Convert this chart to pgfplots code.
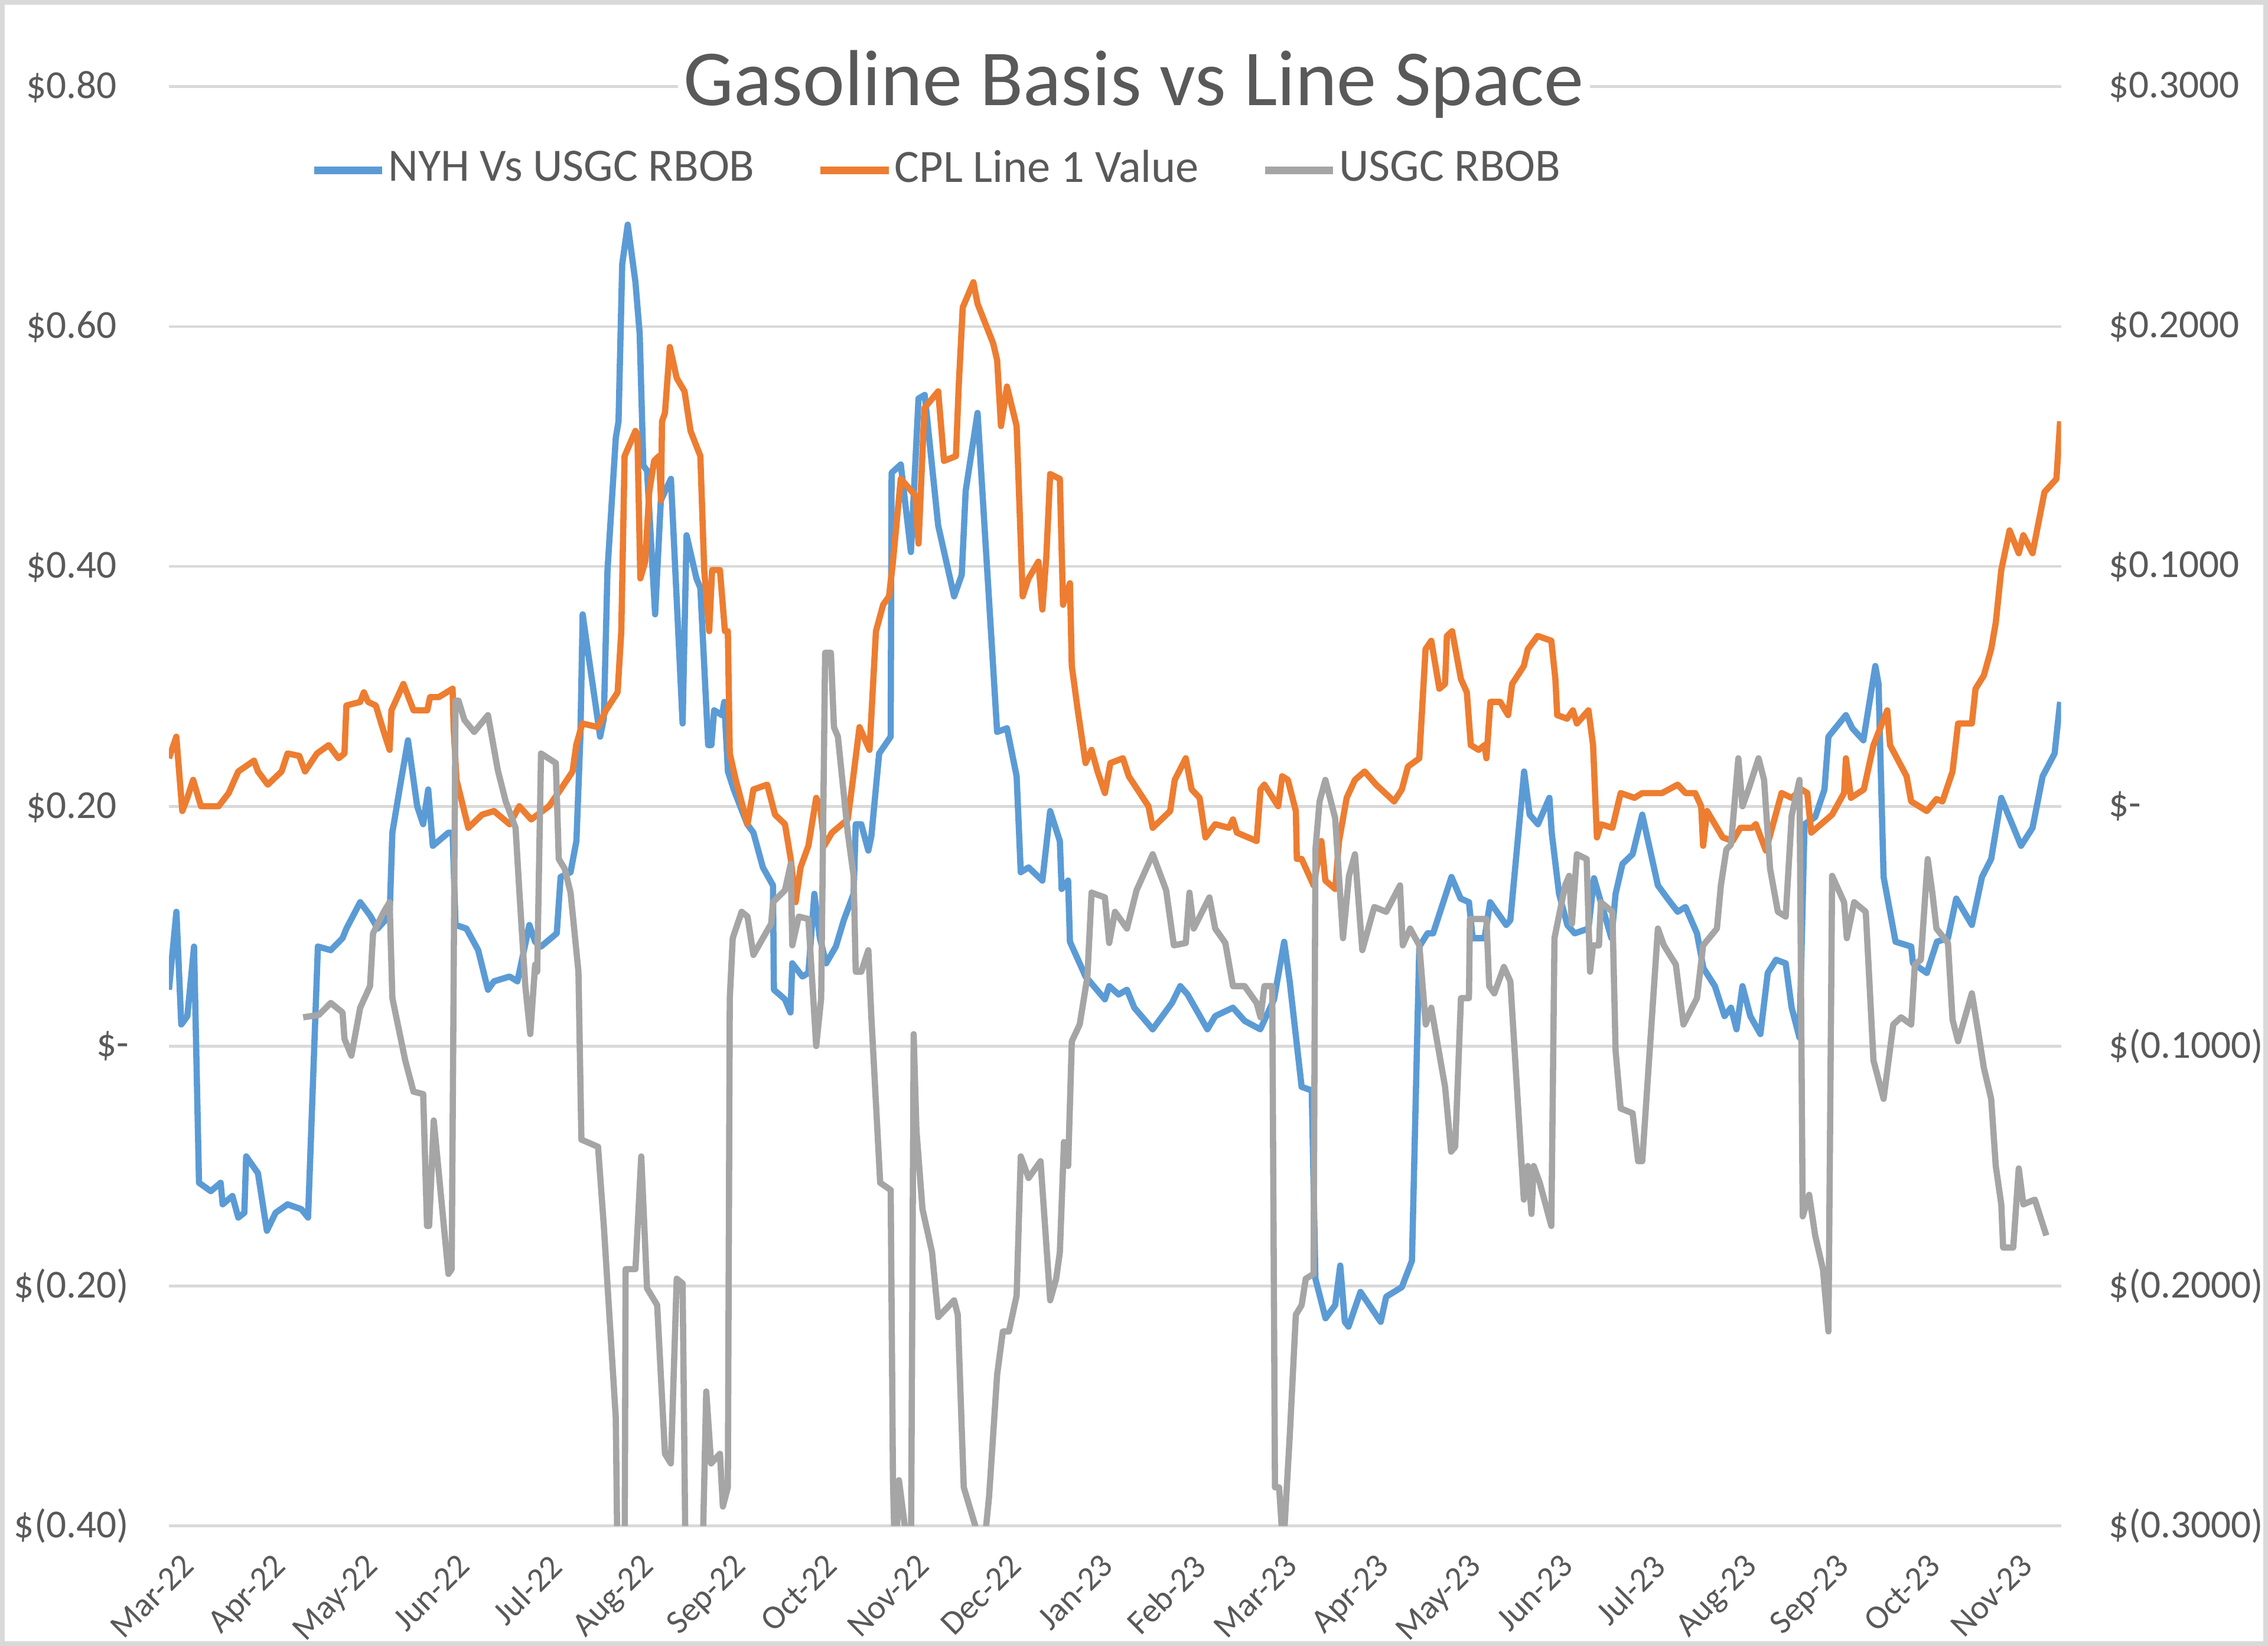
\documentclass[border=0pt]{standalone}
\usepackage{fontspec}
\setmainfont{Carlito}
\usepackage{pgfplots}
\pgfplotsset{compat=1.18}
\definecolor{cblue}{HTML}{5B9BD5}
\definecolor{corange}{HTML}{ED7D31}
\definecolor{cgray}{HTML}{A5A5A5}
\definecolor{gridc}{HTML}{D9D9D9}
\definecolor{txt}{HTML}{595959}
\begin{document}
\begin{tikzpicture}
\useasboundingbox (-29.8pt,-21.2pt) rectangle (370.2pt,269.1pt);
\draw[gridc, line width=0.8pt] (-29.4pt,-20.8pt) rectangle (369.8pt,268.7pt);
\pgfplotsset{
  base/.style={scale only axis, width=333.7pt, height=253.8pt,
    xmin=0, xmax=20.58, clip=true,
    axis line style={draw=none}, major tick length=0pt, tick style={draw=none},
    every axis plot/.append style={line join=round, mark=none}},
}
\begin{axis}[base,
  ymin=-0.4, ymax=0.8,
  ytick={-0.4,-0.2,0,0.2,0.4,0.6,0.8},
  yticklabels={\$(0.40),\$(0.20),\$-\hspace{5.1pt},\$0.20\phantom{)},\$0.40\phantom{)},\$0.60\phantom{)},\$0.80\phantom{)}},
  yticklabel style={anchor=east, inner sep=0pt, xshift=-6.9pt, font=\fontsize{7}{8}\selectfont, text=txt},
  xtick={0,...,20},
  xticklabels={Mar-22,Apr-22,May-22,Jun-22,Jul-22,Aug-22,Sep-22,Oct-22,Nov-22,Dec-22,Jan-23,Feb-23,Mar-23,Apr-23,May-23,Jun-23,Jul-23,Aug-23,Sep-23,Oct-23,Nov-23},
  xticklabel style={rotate=45, anchor=north east, inner sep=0pt, xshift=-1.8pt, yshift=-4.5pt, font=\fontsize{6}{7}\selectfont, text=txt},
  ymajorgrids, grid style={gridc, line width=0.5pt},
  title={Gasoline Basis vs Line Space},
  title style={at={(0.51,1)}, anchor=center, yshift=-5.6pt, font=\fontsize{14}{16}\selectfont, text=txt, fill=white, inner xsep=1pt, inner ysep=0pt},
]
\addplot[cblue, line width=1.1pt] coordinates {
(0,0.047)(0.081,0.112)(0.134,0.018)(0.2,0.025)(0.273,0.083)(0.327,-0.114)(0.455,-0.121)(0.562,-0.114)(0.584,-0.132)(0.69,-0.125)(0.754,-0.143)(0.82,-0.139)(0.84,-0.092)(0.968,-0.106)(1.065,-0.154)(1.16,-0.139)(1.29,-0.132)(1.44,-0.136)(1.513,-0.143)(1.62,0.083)(1.76,0.080)(1.888,0.090)(1.93,0.098)(2.08,0.120)(2.187,0.109)(2.27,0.098)(2.40,0.109)(2.43,0.178)(2.51,0.215)(2.60,0.255)(2.70,0.2)(2.765,0.185)(2.82,0.214)(2.87,0.167)(3.04,0.178)(3.085,0.178)(3.117,0.101)(3.235,0.098)(3.363,0.080)(3.47,0.047)(3.535,0.054)(3.705,0.058)(3.79,0.054)(3.92,0.101)(3.983,0.087)(4.047,0.083)(4.218,0.094)(4.26,0.141)(4.368,0.145)(4.432,0.171)(4.475,0.258)(4.50,0.36)(4.54,0.338)(4.69,0.258)(4.73,0.273)(4.77,0.397)(4.86,0.507)(4.89,0.521)(4.93,0.652)(4.99,0.685)(5.074,0.637)(5.12,0.594)(5.16,0.484)(5.20,0.48)(5.288,0.36)(5.35,0.455)(5.46,0.473)(5.587,0.269)(5.63,0.426)(5.737,0.39)(5.78,0.382)(5.865,0.251)(5.9,0.251)(5.93,0.28)(6.015,0.276)(6.04,0.287)(6.08,0.229)(6.143,0.214)(6.29,0.185)(6.357,0.178)(6.46,0.149)(6.57,0.134)(6.58,0.047)(6.70,0.039)(6.76,0.028)(6.78,0.069)(6.89,0.058)(6.955,0.061)(7.02,0.127)(7.08,0.090)(7.148,0.069)(7.254,0.083)(7.34,0.105)(7.447,0.127)(7.47,0.185)(7.53,0.185)(7.607,0.163)(7.64,0.175)(7.725,0.244)(7.85,0.258)(7.86,0.478)(7.96,0.485)(8.07,0.412)(8.153,0.54)(8.22,0.543)(8.367,0.434)(8.54,0.375)(8.623,0.393)(8.666,0.463)(8.795,0.528)(9.008,0.262)(9.115,0.265)(9.22,0.225)(9.265,0.145)(9.35,0.149)(9.5,0.138)(9.585,0.196)(9.69,0.171)(9.71,0.131)(9.78,0.138)(9.80,0.087)(9.97,0.058)(10.18,0.039)(10.227,0.050)(10.33,0.043)(10.42,0.047)(10.50,0.032)(10.70,0.014)(10.91,0.036)(11.0,0.05)(11.08,0.043)(11.295,0.014)(11.38,0.025)(11.573,0.032)(11.70,0.021)(11.87,0.014)(12.02,0.039)(12.13,0.087)(12.19,0.054)(12.32,-0.034)(12.43,-0.037)(12.47,-0.194)(12.58,-0.227)(12.685,-0.216)(12.74,-0.183)(12.79,-0.23)(12.83,-0.234)(12.96,-0.205)(13.18,-0.23)(13.24,-0.209)(13.41,-0.201)(13.52,-0.179)(13.60,0.083)(13.69,0.094)(13.75,0.094)(13.95,0.141)(14.05,0.123)(14.14,0.120)(14.18,0.090)(14.31,0.090)(14.37,0.120)(14.545,0.101)(14.59,0.105)(14.74,0.229)(14.80,0.193)(14.89,0.185)(15.015,0.207)(15.04,0.178)(15.12,0.127)(15.21,0.101)(15.29,0.094)(15.44,0.098)(15.50,0.14)(15.575,0.120)(15.69,0.090)(15.735,0.127)(15.81,0.152)(15.92,0.160)(16.025,0.193)(16.195,0.134)(16.30,0.123)(16.41,0.112)(16.495,0.116)(16.62,0.094)(16.69,0.065)(16.815,0.050)(16.92,0.025)(16.99,0.032)(17.05,0.014)(17.115,0.050)(17.20,0.025)(17.31,0.010)(17.39,0.061)(17.48,0.072)(17.585,0.069)(17.65,0.032)(17.735,0.007)(17.79,0.185)(17.906,0.191)(18.007,0.214)(18.05,0.258)(18.24,0.276)(18.31,0.265)(18.43,0.255)(18.56,0.317)(18.595,0.302)(18.65,0.141)(18.78,0.087)(18.95,0.083)(18.97,0.069)(19.12,0.061)(19.23,0.087)(19.35,0.090)(19.44,0.123)(19.61,0.101)(19.72,0.141)(19.82,0.156)(19.93,0.207)(20.145,0.167)(20.27,0.182)(20.38,0.225)(20.51,0.244)(20.57,0.287)
};
\addplot[corange, line width=1.1pt] coordinates {
(0,0.240)(0.08,0.258)(0.145,0.196)(0.2,0.207)(0.263,0.222)(0.348,0.2)(0.54,0.2)(0.65,0.211)(0.754,0.229)(0.925,0.238)(0.968,0.229)(1.075,0.218)(1.225,0.229)(1.29,0.244)(1.417,0.242)(1.48,0.229)(1.61,0.244)(1.738,0.251)(1.845,0.240)(1.909,0.244)(1.93,0.284)(2.08,0.287)(2.12,0.295)(2.166,0.287)(2.25,0.284)(2.337,0.262)(2.40,0.247)(2.42,0.280)(2.55,0.302)(2.66,0.280)(2.81,0.280)(2.84,0.291)(2.935,0.291)(3.085,0.298)(3.096,0.266)(3.128,0.222)(3.256,0.182)(3.406,0.193)(3.535,0.196)(3.705,0.185)(3.81,0.2)(3.94,0.189)(4.133,0.2)(4.26,0.214)(4.39,0.229)(4.43,0.251)(4.496,0.269)(4.667,0.266)(4.753,0.280)(4.88,0.295)(4.92,0.346)(4.956,0.492)(5.074,0.513)(5.095,0.510)(5.127,0.390)(5.18,0.404)(5.224,0.462)(5.277,0.488)(5.33,0.492)(5.352,0.455)(5.363,0.521)(5.395,0.528)(5.448,0.583)(5.523,0.557)(5.608,0.546)(5.673,0.513)(5.78,0.492)(5.822,0.397)(5.876,0.346)(5.908,0.397)(5.993,0.397)(6.047,0.346)(6.079,0.346)(6.10,0.244)(6.165,0.222)(6.293,0.185)(6.357,0.214)(6.507,0.218)(6.592,0.193)(6.70,0.185)(6.763,0.156)(6.816,0.120)(6.87,0.149)(6.955,0.167)(7.04,0.207)(7.084,0.2)(7.127,0.167)(7.212,0.178)(7.32,0.185)(7.383,0.189)(7.426,0.214)(7.511,0.266)(7.62,0.247)(7.69,0.346)(7.768,0.368)(7.832,0.375)(7.875,0.404)(7.96,0.473)(8.12,0.459)(8.153,0.419)(8.217,0.532)(8.367,0.546)(8.43,0.488)(8.56,0.492)(8.59,0.55)(8.634,0.616)(8.75,0.637)(8.795,0.619)(8.965,0.586)(9.008,0.572)(9.05,0.517)(9.115,0.55)(9.22,0.517)(9.286,0.375)(9.35,0.39)(9.457,0.404)(9.5,0.364)(9.543,0.408)(9.585,0.477)(9.69,0.473)(9.725,0.368)(9.80,0.386)(9.82,0.317)(9.885,0.280)(9.97,0.236)(10.035,0.247)(10.1,0.229)(10.18,0.211)(10.24,0.236)(10.376,0.240)(10.44,0.225)(10.654,0.2)(10.70,0.182)(10.89,0.196)(10.94,0.222)(11.06,0.240)(11.124,0.214)(11.21,0.207)(11.274,0.174)(11.38,0.185)(11.53,0.182)(11.573,0.189)(11.616,0.178)(11.83,0.171)(11.873,0.214)(11.915,0.218)(12.065,0.2)(12.108,0.225)(12.17,0.222)(12.257,0.196)(12.268,0.156)(12.32,0.156)(12.45,0.134)(12.535,0.171)(12.578,0.138)(12.685,0.131)(12.727,0.171)(12.81,0.207)(12.9,0.222)(13.005,0.229)(13.13,0.218)(13.326,0.204)(13.41,0.214)(13.476,0.233)(13.60,0.240)(13.668,0.331)(13.73,0.338)(13.818,0.298)(13.88,0.302)(13.90,0.342)(13.957,0.346)(14.053,0.306)(14.117,0.295)(14.16,0.251)(14.245,0.247)(14.31,0.251)(14.33,0.240)(14.373,0.287)(14.48,0.287)(14.566,0.276)(14.61,0.302)(14.737,0.317)(14.78,0.331)(14.887,0.342)(15.036,0.338)(15.08,0.306)(15.10,0.276)(15.207,0.273)(15.27,0.280)(15.314,0.269)(15.44,0.280)(15.49,0.251)(15.532,0.174)(15.575,0.185)(15.70,0.182)(15.79,0.211)(15.94,0.207)(16.025,0.211)(16.24,0.211)(16.41,0.218)(16.495,0.211)(16.60,0.211)(16.666,0.2)(16.687,0.167)(16.73,0.196)(16.90,0.174)(17.008,0.171)(17.093,0.182)(17.22,0.182)(17.26,0.185)(17.37,0.163)(17.54,0.211)(17.65,0.207)(17.756,0.214)(17.82,0.211)(17.863,0.178)(18.03,0.189)(18.09,0.193)(18.22,0.211)(18.24,0.240)(18.295,0.207)(18.435,0.214)(18.54,0.251)(18.69,0.280)(18.72,0.251)(18.90,0.225)(18.95,0.204)(19.12,0.196)(19.225,0.206)(19.29,0.204)(19.40,0.229)(19.46,0.269)(19.61,0.269)(19.65,0.298)(19.74,0.309)(19.82,0.331)(19.87,0.353)(19.93,0.397)(20.02,0.430)(20.12,0.411)(20.17,0.426)(20.27,0.411)(20.40,0.462)(20.53,0.473)(20.57,0.521)
};
\end{axis}
\begin{axis}[base,
  ymin=-0.3, ymax=0.3,
  hide x axis,
  yticklabel pos=right,
  ytick={-0.3,-0.2,-0.1,0,0.1,0.2,0.3},
  yticklabels={\$(0.3000),\$(0.2000),\$(0.1000),\$-,\$0.1000,\$0.2000,\$0.3000},
  yticklabel style={anchor=west, inner sep=0pt, xshift=8.2pt, font=\fontsize{7}{8}\selectfont, text=txt},
  legend columns=3,
  legend style={at={(0.0743,0.942)}, anchor=west, draw=none, fill=none, inner sep=0pt,
    font=\fontsize{8.17}{9}\selectfont, text=txt,
    nodes={inner xsep=0.4pt, inner ysep=0.6pt, text=txt},
    /tikz/every even column/.append style={column sep=10.6pt}},
  legend image code/.code={\draw[#1, line width=1.3pt] (0pt,0pt) -- (12pt,0pt);},
]
\addlegendimage{cblue}
\addlegendentry{NYH Vs USGC RBOB}
\addlegendimage{corange}
\addlegendentry{CPL Line 1 Value}
\addplot[cgray, line width=1.1pt] coordinates {
(1.46,-0.088)(1.63,-0.087)(1.76,-0.082)(1.888,-0.086)(1.909,-0.097)(1.984,-0.104)(2.08,-0.084)(2.187,-0.075)(2.22,-0.053)(2.337,-0.044)(2.40,-0.040)(2.43,-0.080)(2.57,-0.106)(2.66,-0.119)(2.765,-0.120)(2.807,-0.175)(2.83,-0.175)(2.88,-0.131)(3.04,-0.195)(3.075,-0.193)(3.117,0.044)(3.15,0.044)(3.213,0.036)(3.32,0.031)(3.47,0.038)(3.577,0.015)(3.663,0.002)(3.77,-0.009)(3.812,-0.036)(3.876,-0.075)(3.93,-0.095)(3.983,-0.066)(4.005,-0.069)(4.047,0.022)(4.208,0.018)(4.24,-0.022)(4.304,-0.026)(4.368,-0.036)(4.454,-0.069)(4.486,-0.139)(4.667,-0.142)(4.73,-0.175)(4.86,-0.255)(4.88,-0.32)(4.956,-0.32)(4.967,-0.193)(5.074,-0.193)(5.137,-0.146)(5.20,-0.201)(5.31,-0.208)(5.395,-0.270)(5.459,-0.274)(5.523,-0.197)(5.587,-0.199)(5.62,-0.32)(5.80,-0.32)(5.844,-0.244)(5.897,-0.274)(5.993,-0.270)(6.025,-0.292)(6.079,-0.284)(6.10,-0.080)(6.132,-0.055)(6.229,-0.044)(6.293,-0.046)(6.357,-0.062)(6.46,-0.055)(6.55,-0.049)(6.57,-0.040)(6.70,-0.035)(6.763,-0.024)(6.78,-0.058)(6.85,-0.046)(6.955,-0.047)(7.04,-0.100)(7.094,-0.080)(7.137,0.064)(7.2,0.064)(7.233,0.033)(7.276,0.029)(7.383,-0.011)(7.447,-0.029)(7.47,-0.069)(7.53,-0.069)(7.607,-0.060)(7.64,-0.088)(7.736,-0.157)(7.85,-0.160)(7.875,-0.281)(7.90,-0.32)(7.94,-0.281)(8.07,-0.32)(8.10,-0.095)(8.13,-0.135)(8.196,-0.168)(8.30,-0.186)(8.367,-0.213)(8.54,-0.206)(8.58,-0.212)(8.645,-0.284)(8.77,-0.30)(8.837,-0.32)(8.92,-0.288)(9.008,-0.237)(9.07,-0.219)(9.136,-0.219)(9.22,-0.204)(9.265,-0.146)(9.35,-0.155)(9.48,-0.148)(9.585,-0.206)(9.65,-0.197)(9.69,-0.186)(9.735,-0.140)(9.78,-0.150)(9.82,-0.098)(9.906,-0.091)(9.99,-0.071)(10.035,-0.036)(10.18,-0.038)(10.227,-0.057)(10.29,-0.044)(10.42,-0.051)(10.525,-0.035)(10.70,-0.020)(10.846,-0.035)(10.93,-0.058)(11.06,-0.057)(11.10,-0.036)(11.146,-0.051)(11.317,-0.038)(11.38,-0.051)(11.49,-0.057)(11.573,-0.075)(11.70,-0.075)(11.83,-0.082)(11.873,-0.088)(11.915,-0.075)(12.0,-0.075)(12.03,-0.284)(12.075,-0.284)(12.12,-0.31)(12.19,-0.263)(12.257,-0.212)(12.32,-0.208)(12.365,-0.197)(12.45,-0.195)(12.47,-0.018)(12.515,0.002)(12.578,0.011)(12.685,-0.005)(12.77,-0.055)(12.835,-0.029)(12.9,-0.020)(12.98,-0.060)(13.11,-0.042)(13.24,-0.044)(13.39,-0.033)(13.42,-0.058)(13.50,-0.051)(13.60,-0.058)(13.67,-0.091)(13.73,-0.084)(13.88,-0.117)(13.946,-0.144)(13.99,-0.142)(14.053,-0.080)(14.14,-0.080)(14.15,-0.047)(14.33,-0.047)(14.36,-0.075)(14.416,-0.078)(14.52,-0.067)(14.59,-0.073)(14.737,-0.164)(14.78,-0.150)(14.82,-0.170)(14.844,-0.150)(14.91,-0.157)(15.036,-0.175)(15.07,-0.055)(15.186,-0.033)(15.23,-0.029)(15.26,-0.049)(15.314,-0.020)(15.42,-0.022)(15.457,-0.069)(15.49,-0.058)(15.554,-0.058)(15.575,-0.040)(15.70,-0.044)(15.735,-0.102)(15.79,-0.126)(15.92,-0.128)(15.98,-0.148)(16.025,-0.148)(16.195,-0.051)(16.26,-0.058)(16.39,-0.066)(16.473,-0.091)(16.62,-0.080)(16.687,-0.058)(16.837,-0.051)(16.88,-0.033)(16.94,-0.018)(16.99,-0.016)(17.07,0.020)(17.115,0.0)(17.18,0.007)(17.29,0.020)(17.35,0.011)(17.415,-0.026)(17.50,-0.044)(17.585,-0.046)(17.65,-0.004)(17.735,0.011)(17.77,-0.171)(17.84,-0.162)(17.906,-0.179)(17.99,-0.193)(18.05,-0.219)(18.09,-0.029)(18.22,-0.040)(18.25,-0.055)(18.33,-0.040)(18.456,-0.044)(18.54,-0.106)(18.65,-0.122)(18.755,-0.091)(18.84,-0.088)(18.95,-0.091)(18.99,-0.066)(19.055,-0.064)(19.13,-0.022)(19.18,-0.036)(19.225,-0.051)(19.35,-0.057)(19.40,-0.089)(19.46,-0.098)(19.61,-0.078)(19.675,-0.093)(19.74,-0.109)(19.82,-0.122)(19.87,-0.150)(19.93,-0.166)(19.95,-0.184)(20.06,-0.184)(20.12,-0.151)(20.17,-0.166)(20.295,-0.164)(20.42,-0.179)
};
\addlegendentry{USGC RBOB}
\end{axis}
\end{tikzpicture}
\end{document}
